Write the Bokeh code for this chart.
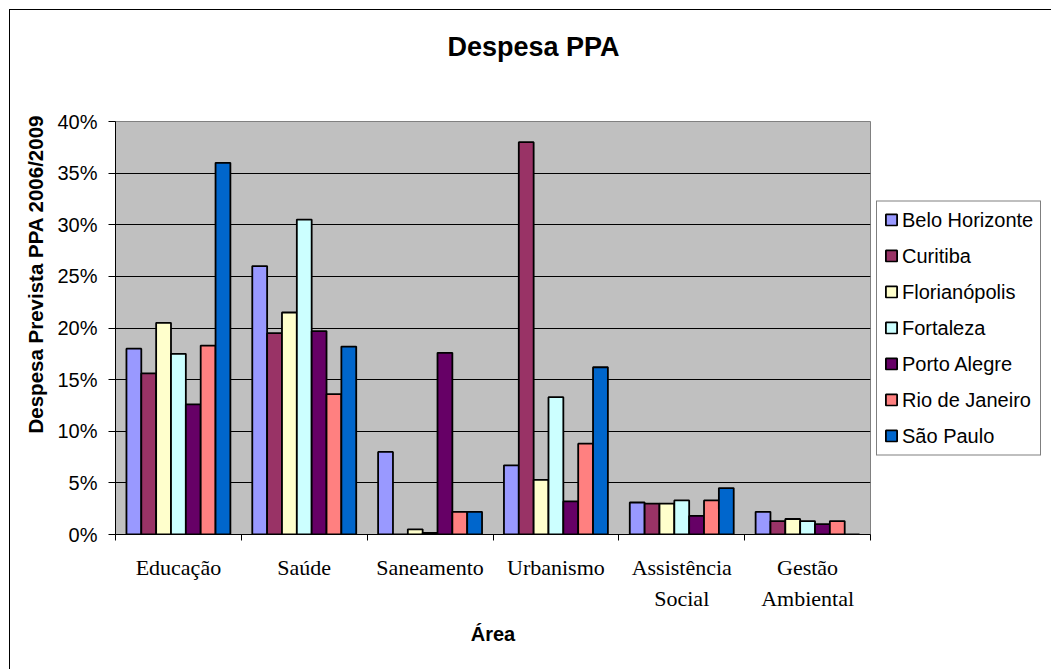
import numpy as np
from bokeh.plotting import figure
from bokeh.models import (Range1d, FixedTicker, NumeralTickFormatter, Legend,
                          LegendItem, Title)
from bokeh.embed import file_html
from bokeh.resources import INLINE

# ---------------- data ----------------
categories = ["Educação", "Saúde", "Saneamento", "Urbanismo",
              "Assistência Social", "Gestão Ambiental"]
cities = ["Belo Horizonte", "Curitiba", "Florianópolis", "Fortaleza",
          "Porto Alegre", "Rio de Janeiro", "São Paulo"]
belo_horizonte = [18.0, 26.0, 8.0, 6.7, 3.1, 2.2]
curitiba = [15.6, 19.5, 0.0, 38.0, 3.0, 1.3]
florianopolis = [20.5, 21.5, 0.5, 5.3, 3.0, 1.5]
fortaleza = [17.5, 30.5, 0.15, 13.3, 3.3, 1.3]
porto_alegre = [12.6, 19.7, 17.6, 3.2, 1.8, 1.0]
rio_de_janeiro = [18.3, 13.6, 2.2, 8.8, 3.3, 1.3]
sao_paulo = [36.0, 18.2, 2.2, 16.2, 4.5, 0.0]
y_ticks = [0, 5, 10, 15, 20, 25, 30, 35, 40]  # percent

series = [belo_horizonte, curitiba, florianopolis, fortaleza,
          porto_alegre, rio_de_janeiro, sao_paulo]
colors = ["#9999FF", "#993366", "#FFFFCC", "#CCFFFF",
          "#660066", "#FF8080", "#0066CC"]

# ---------------- figure ----------------
p = figure(width=None, height=None, frame_width=755, frame_height=413,
           x_range=Range1d(0, len(categories)), y_range=Range1d(0, y_ticks[-1] / 100),
           output_backend="svg", toolbar_location=None, title=None,
           min_border_left=115, min_border_right=181,
           min_border_top=121, min_border_bottom=135)
p.background_fill_color = "#C0C0C0"
p.border_fill_color = "white"
p.border_fill_alpha = 0
p.styles = {"background": "linear-gradient(#000, #000) 9px 9px / 1px calc(100% - 9px) no-repeat, "
                          "linear-gradient(#000, #000) 9px 9px / calc(100% - 9px) 1px no-repeat, #ffffff"}
p.outline_line_color = "#808080"
p.outline_line_width = 1

p.xgrid.visible = False
p.ygrid.ticker = FixedTicker(ticks=[t / 100 for t in y_ticks[1:-1]])
p.ygrid.grid_line_color = "black"
p.ygrid.grid_line_width = 1

xax = p.below[0]
yax = p.left[0]

centers = np.arange(len(categories)) + 0.5
bw = 0.118
n = len(cities)
items = []
for j, (city, vals, col) in enumerate(zip(cities, series, colors)):
    r = p.vbar(x=centers + (j - (n - 1) / 2) * bw, top=np.array(vals) / 100,
               bottom=0, width=bw, fill_color=col, line_color="black",
               line_width=1.8)
    items.append(LegendItem(label=city, renderers=[r]))

# y axis
yax.ticker = FixedTicker(ticks=[t / 100 for t in y_ticks])
yax.formatter = NumeralTickFormatter(format="0%")
yax.major_label_text_font = "Liberation Sans"
yax.major_label_text_font_size = "20px"
yax.major_label_text_color = "black"
yax.major_tick_out = 7
yax.major_tick_in = 0
yax.minor_tick_out = 0
yax.minor_tick_in = 0
yax.major_tick_line_color = "black"
yax.axis_line_color = "black"
yax.major_label_standoff = 11

# y axis title (rotated title on the left, placed higher like the original)
p.add_layout(Title(text="Despesa Prevista PPA 2006/2009", align="left", offset=101,
                   vertical_align="bottom", standoff=16,
                   text_font="Liberation Sans", text_font_style="bold",
                   text_font_size="20.5px", text_color="black"), "left")

# x axis
xax.ticker = FixedTicker(ticks=list(centers), minor_ticks=list(range(len(categories) + 1)))
xax.major_label_overrides = {float(c): lab.replace(" ", "\n")
                             for c, lab in zip(centers, categories)}
xax.major_label_text_font = "Liberation Serif"
xax.major_label_text_font_size = "22px"
xax.major_label_text_line_height = 1.25
xax.major_label_text_color = "black"
xax.major_tick_out = 0
xax.major_tick_in = 0
xax.minor_tick_out = 6
xax.minor_tick_in = 0
xax.minor_tick_line_color = "black"
xax.axis_line_color = "black"
xax.major_label_standoff = 14
xax.axis_label = "Área"
xax.axis_label_text_font = "Liberation Sans"
xax.axis_label_text_font_style = "bold"
xax.axis_label_text_font_size = "20px"
xax.axis_label_text_color = "black"
xax.axis_label_standoff = 9

# blank spacer between plot area and chart title
p.add_layout(Title(text=" ", text_font="Liberation Sans", text_font_size="47px",
                   standoff=0), "above")

# chart title
p.add_layout(Title(text="Despesa PPA", align="left", offset=332,
                   text_font="Liberation Sans", text_font_style="bold",
                   text_font_size="27px", text_color="black",
                   vertical_align="bottom", standoff=10), "above")

# legend
legend = Legend(items=items, location="center_left", orientation="vertical",
                border_line_color="black", border_line_width=1,
                background_fill_color="white", background_fill_alpha=1.0,
                label_text_font="Liberation Sans", label_text_font_size="20px",
                label_text_color="black",
                glyph_width=14, glyph_height=14, label_height=23,
                spacing=13, padding=7, margin=6, label_standoff=4)
p.add_layout(legend, "right")

open("out.html", "w").write(file_html(p, INLINE))
